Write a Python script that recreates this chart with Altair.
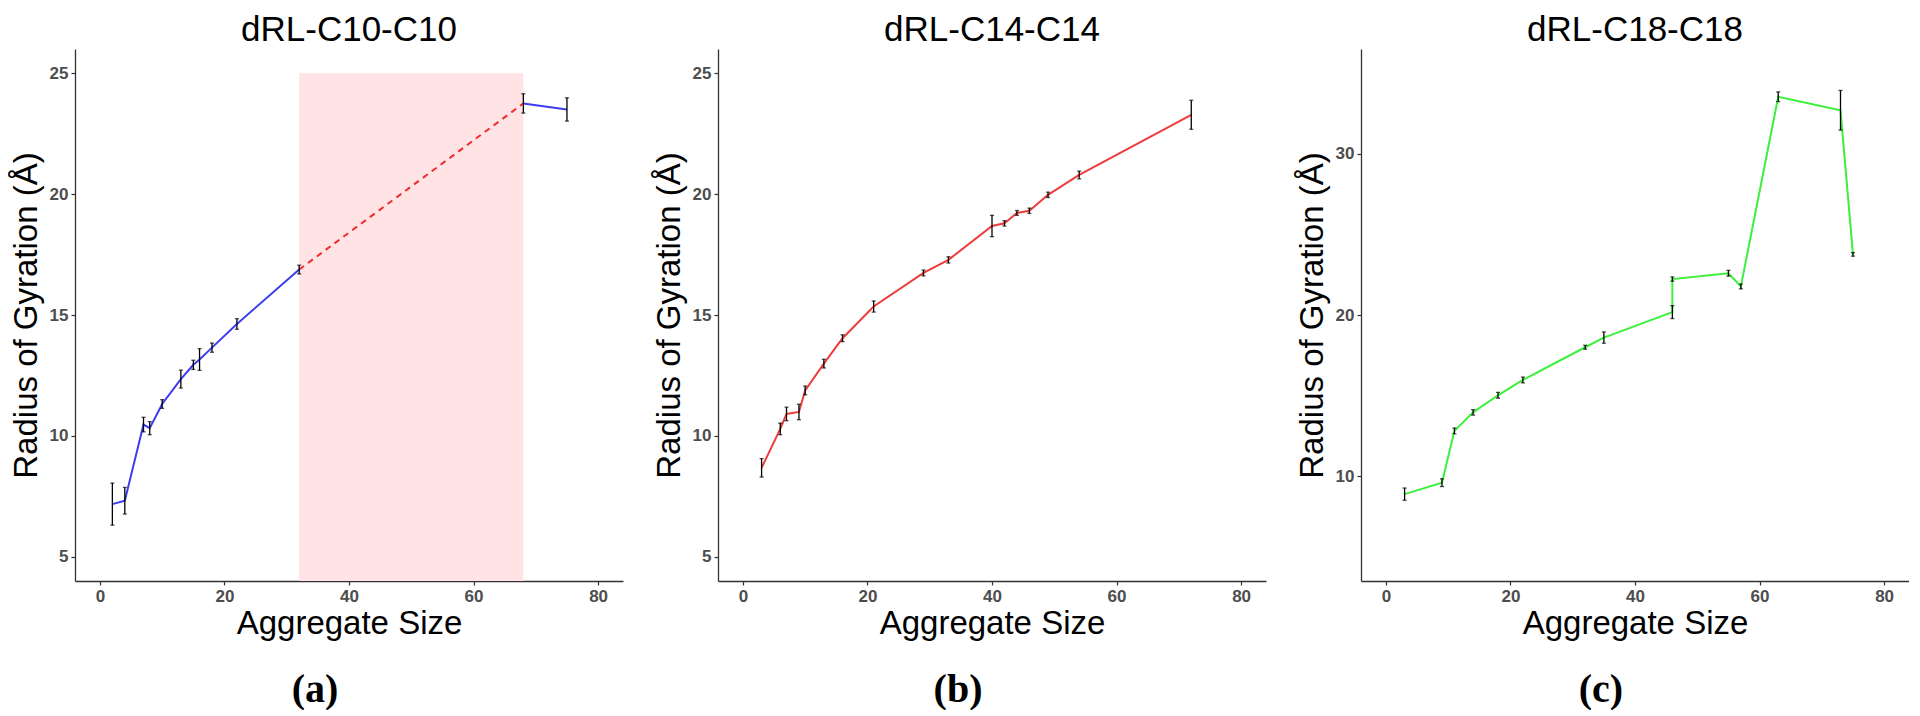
import altair as alt
import pandas as pd

# ---------------- data ----------------
# Panel (a) dRL-C10-C10
a_size = [2, 4, 7, 8, 10, 13, 15, 16, 18, 22, 32, 68, 75]
a_rg = [7.18, 7.32, 10.47, 10.32, 11.32, 12.35, 12.94, 13.16, 13.65, 14.63, 16.88, 23.75, 23.50]
a_err = [0.87, 0.55, 0.30, 0.27, 0.18, 0.37, 0.19, 0.45, 0.19, 0.22, 0.18, 0.40, 0.48]
a_segment = [1, 1, 1, 1, 1, 1, 1, 1, 1, 1, 1, 2, 2]
a_gap_size = [32, 68]
a_gap_rg = [16.88, 23.75]
a_band_start = [32]
a_band_end = [68]
a_band_top = [25]

# Panel (b) dRL-C14-C14
b_size = [3, 6, 7, 9, 10, 13, 16, 21, 29, 33, 40, 42, 44, 46, 49, 54, 72]
b_rg = [8.68, 10.29, 10.91, 10.99, 11.88, 12.99, 14.04, 15.35, 16.74, 17.28,
        18.68, 18.79, 19.22, 19.31, 19.97, 20.79, 23.28]
b_err = [0.38, 0.24, 0.28, 0.32, 0.18, 0.18, 0.14, 0.23, 0.12, 0.13,
         0.44, 0.11, 0.10, 0.11, 0.11, 0.16, 0.60]

# Panel (c) dRL-C18-C18
c_size = [3, 9, 11, 14, 18, 22, 32, 35, 46, 46, 55, 57, 63, 73, 75]
c_rg = [8.89, 9.60, 12.81, 13.96, 15.02, 15.97, 18.00, 18.60, 20.18, 22.23,
        22.59, 21.77, 33.54, 32.70, 23.76]
c_err = [0.38, 0.24, 0.18, 0.17, 0.18, 0.18, 0.12, 0.35, 0.40, 0.13,
         0.18, 0.15, 0.30, 1.23, 0.11]

titles = ["dRL-C10-C10", "dRL-C14-C14", "dRL-C18-C18"]
panel_labels = ["(a)", "(b)", "(c)"]
x_ticks = [0, 20, 40, 60, 80]
x_domain = [-4, 84]
ab_y_domain = [4, 26]
ab_y_ticks = [5, 10, 15, 20, 25]
c_y_domain = [3.5, 36.5]
c_y_ticks = [10, 20, 30]

W, H = 548, 532


def make_df(size, rg, err, seg=None):
    df = pd.DataFrame({"size": size, "rg": rg, "err": err})
    df["lo"] = df["rg"] - df["err"]
    df["hi"] = df["rg"] + df["err"]
    df["idx"] = range(len(df))
    df["seg"] = seg if seg is not None else [1] * len(df)
    return df


def panel(df, title, color, ydomain, yticks, label, pre_layers=(), post_layers=()):
    xs = alt.Scale(domain=x_domain, nice=False, zero=False)
    ys = alt.Scale(domain=ydomain, nice=False, zero=False)
    xa = alt.Axis(values=x_ticks, title="Aggregate Size")
    ya = alt.Axis(values=yticks, title="Radius of Gyration (Å)")
    base = alt.Chart(df)
    line = base.mark_line(color=color, strokeWidth=2).encode(
        x=alt.X("size:Q", scale=xs, axis=xa),
        y=alt.Y("rg:Q", scale=ys, axis=ya),
        detail="seg:N",
        order="idx:Q",
    )
    rule = base.mark_rule(color="black", strokeWidth=1.3).encode(
        x=alt.X("size:Q", scale=xs, axis=xa),
        y=alt.Y("lo:Q", scale=ys, axis=ya),
        y2="hi:Q",
    )
    tick_lo = base.mark_tick(color="black", orient="horizontal", size=4, thickness=1.3).encode(
        x=alt.X("size:Q", scale=xs, axis=xa),
        y=alt.Y("lo:Q", scale=ys, axis=ya),
    )
    tick_hi = base.mark_tick(color="black", orient="horizontal", size=4, thickness=1.3).encode(
        x=alt.X("size:Q", scale=xs, axis=xa),
        y=alt.Y("hi:Q", scale=ys, axis=ya),
    )
    lab = alt.Chart(pd.DataFrame({"lab": [label]})).mark_text(
        font="Liberation Serif", fontWeight="bold", fontSize=40, color="black",
        align="center", baseline="middle",
    ).encode(x=alt.value(240), y=alt.value(641), text="lab:N")
    layers = [l(xs, ys, xa, ya) for l in pre_layers] + [line] + \
             [l(xs, ys, xa, ya) for l in post_layers] + [rule, tick_lo, tick_hi, lab]
    return alt.layer(*layers).properties(
        width=W, height=H,
        title=alt.TitleParams(title, fontSize=35, font="Liberation Sans",
                              fontWeight="normal", color="black", offset=1),
    )


def band_layer(xs, ys, xa, ya):
    d = pd.DataFrame({"x1": a_band_start, "x2": a_band_end, "top": a_band_top})
    return alt.Chart(d).mark_rect(color="#ffe3e5").encode(
        x=alt.X("x1:Q", scale=xs, axis=xa), x2="x2:Q",
        y=alt.Y("top:Q", scale=ys, axis=ya), y2=alt.value(H),
    )


def gap_layer(xs, ys, xa, ya):
    d = pd.DataFrame({"size": a_gap_size, "rg": a_gap_rg})
    return alt.Chart(d).mark_line(color="#f02a2a", strokeWidth=2, strokeDash=[6, 5]).encode(
        x=alt.X("size:Q", scale=xs, axis=xa),
        y=alt.Y("rg:Q", scale=ys, axis=ya),
    )


pa = panel(make_df(a_size, a_rg, a_err, a_segment), titles[0], "#3c3cf0",
           ab_y_domain, ab_y_ticks, panel_labels[0],
           pre_layers=[band_layer], post_layers=[gap_layer])
pb = panel(make_df(b_size, b_rg, b_err), titles[1], "#ee3c3c",
           ab_y_domain, ab_y_ticks, panel_labels[1])
pc = panel(make_df(c_size, c_rg, c_err), titles[2], "#3cf03c",
           c_y_domain, c_y_ticks, panel_labels[2])

chart = alt.hconcat(pa, pb, pc, spacing=30).properties(
    padding={"left": 2, "top": 5, "right": 0, "bottom": 0}
).configure_view(stroke=None).configure_axis(
    grid=False,
    labelFont="Liberation Sans", labelFontWeight="bold", labelFontSize=17,
    labelColor="#4d4d4d", labelPadding=3,
    titleFont="Liberation Sans", titleFontWeight="normal", titleFontSize=33,
    titleColor="black",
    domainColor="#333333", domainWidth=1.3,
    tickColor="#333333", tickSize=4, tickWidth=1.2,
).configure_axisY(titlePadding=6).configure_axisX(titlePadding=3)

chart.save("out.html", embed_options={"renderer": "svg", "actions": False})
